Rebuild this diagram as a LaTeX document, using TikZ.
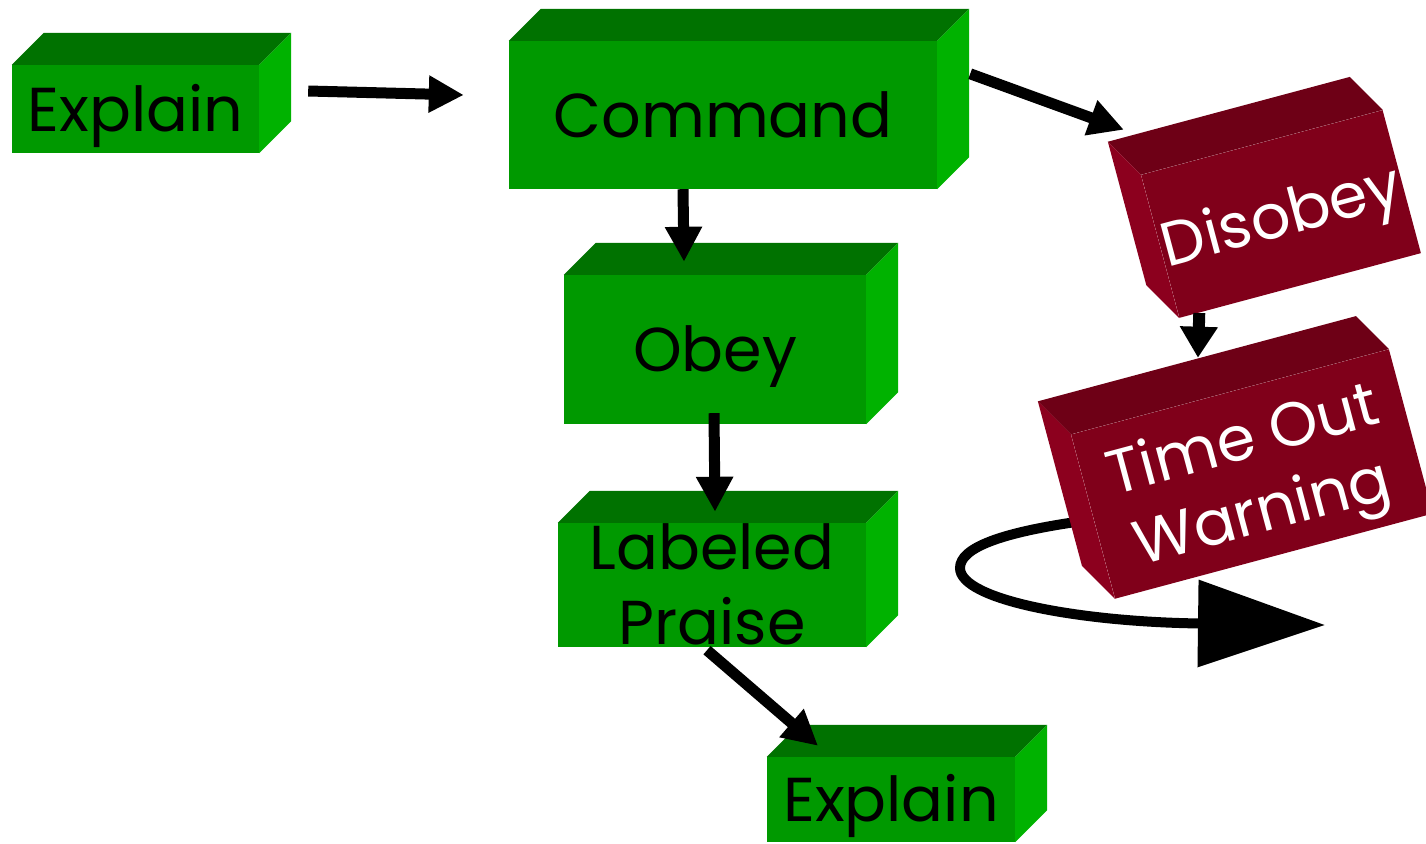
\documentclass[tikz,border=0pt]{standalone}
\usepackage{fontspec}
\setmainfont{Poppins}
\usetikzlibrary{arrows.meta,calc}

\definecolor{gfrontc}{RGB}{0,153,0}
\definecolor{gtopc}{RGB}{0,114,0}
\definecolor{gsidec}{RGB}{0,178,0}
\definecolor{rfrontc}{RGB}{128,0,26}
\definecolor{rtopc}{RGB}{110,0,22}
\definecolor{rsidec}{RGB}{140,0,30}

\tikzset{
  blockfont/.style={font=\fontsize{62}{75}\selectfont, text height=44pt, text depth=0pt},
  twolines/.style={text height=119pt, text depth=0pt},
  gface/.style={fill=gfrontc, inner sep=0pt, text=black, align=center, blockfont},
  rface/.style={fill=rfrontc, inner sep=0pt, text=white, align=center, rotate=15, blockfont},
  arr/.style={line width=11pt, -{Triangle[length=35pt,width=35pt]}},
}

% top and right faces of a green block, receding up and to the right
\newcommand\gdepth[1]{%
  \fill[gtopc] (#1.north west) -- ++(32,-32) -- ([shift={(32,-32)}]#1.north east) -- (#1.north east) -- cycle;
  \fill[gsidec] (#1.north east) -- ++(32,-32) -- ([shift={(32,-32)}]#1.south east) -- (#1.south east) -- cycle;}
% top and left faces of a red block, receding up and to the left
\newcommand\rdepth[1]{%
  \fill[rtopc] (#1.north west) -- ++(-33,-33) -- ([shift={(-33,-33)}]#1.north east) -- (#1.north east) -- cycle;
  \fill[rsidec] (#1.north west) -- ++(-33,-33) -- ([shift={(-33,-33)}]#1.south west) -- (#1.south west) -- cycle;}

\begin{document}
\begin{tikzpicture}[x=1pt,y=-1pt]
\useasboundingbox (0,0) rectangle (1426,843);

% green blocks
\node[gface, minimum width=247, minimum height=88] (e1) at (135.5,109) {Explain};
\gdepth{e1}
\node[gface, minimum width=428, minimum height=148] (cmd) at (723,115) {Command};
\gdepth{cmd}
\node[gface, minimum width=302, minimum height=149] (obey) at (715,349.5) {Obey};
\gdepth{obey}
\node[gface, twolines, minimum width=308, minimum height=124] (lp) at (712,585) {Labeled\\Praise};
\gdepth{lp}
\node[gface, minimum width=248, minimum height=85] (e2) at (891,799.5) {Explain};
\gdepth{e2}

% red blocks, the loop passing behind the lower one
\node[rface, minimum width=250, minimum height=148] (dis) at (1281,214) {Disobey};
\rdepth{dis}
\coordinate (loopend) at (1325,625);
\draw[line width=10pt, -{Triangle[length=127pt,width=85pt]}]
  (1090,520) .. controls (1000,532) and (960,548) .. (960,568)
  .. controls (960,600) and (1080,622) .. (loopend);
\node[rface, twolines, minimum width=329, minimum height=170] (tow) at (1252,474) {Time Out\\Warning};
\rdepth{tow}

% connectors
\draw[arr] ($(e1.east)+(49,-18)$) -- ($(cmd.west)+(-45,-20)$);
\draw[arr] ($(cmd.north east)+(33,33)$) -- ($(dis.north west)+(-17,-45)$);
\draw[arr] ($(cmd.south)+(-40,0)$) -- ($(obey.north)+(-31,-13)$);
\draw[arr] ($(obey.south)+(-1,-11)$) -- ($(lp.north)+(3,-11)$);
\draw[arr] ($(lp.south)+(-5,3)$) -- ($(e2.north)+(-73,-11)$);
\draw[line width=12pt, -{Triangle[length=31pt,width=36pt]}] ($(dis.south west)+(20,-5)$) -- ($(tow.north)+(-32,-34)$);
\end{tikzpicture}
\end{document}
